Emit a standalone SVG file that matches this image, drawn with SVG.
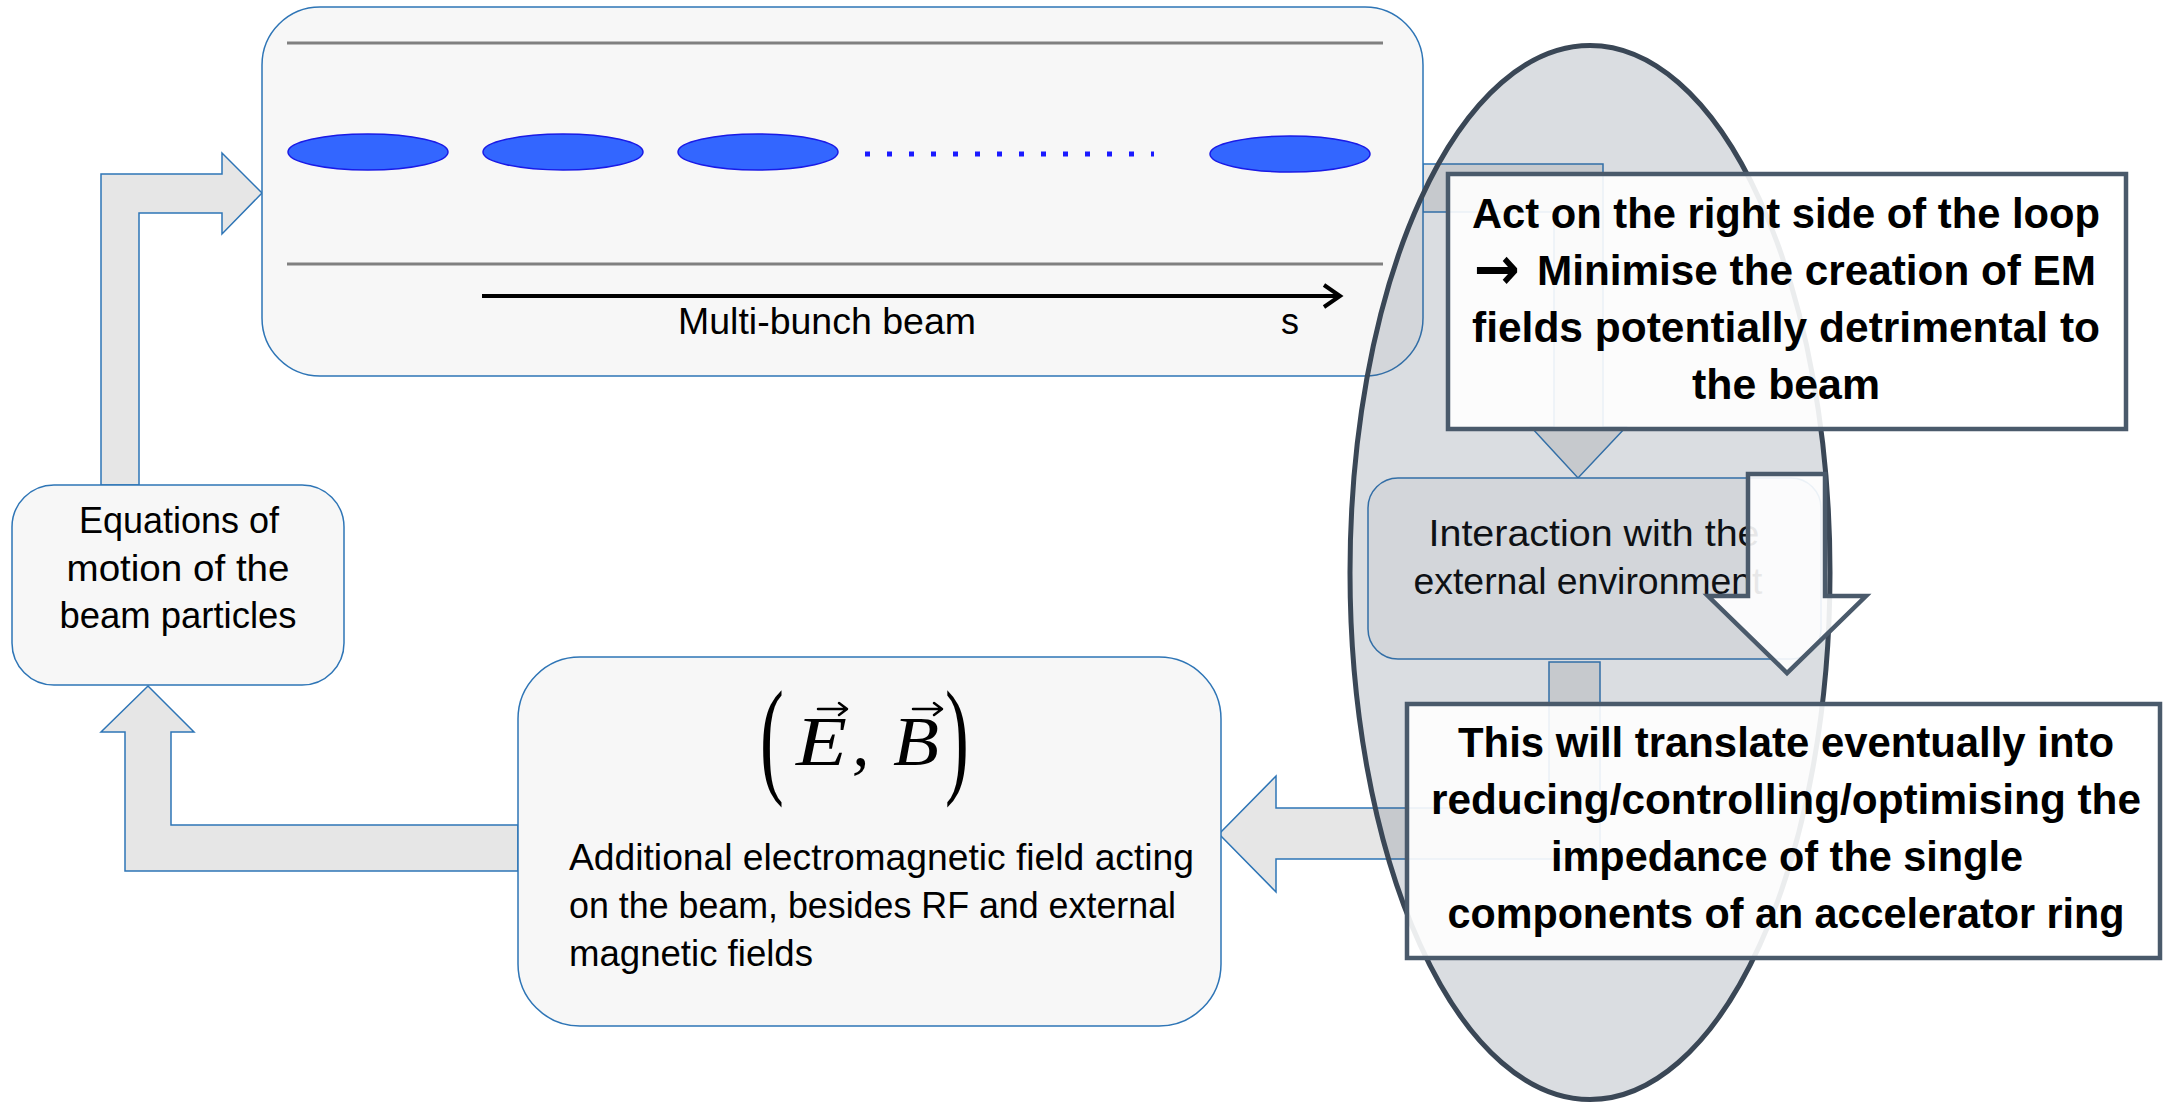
<svg xmlns="http://www.w3.org/2000/svg" width="2164" height="1105" viewBox="0 0 2164 1105">
  <style>
    .box { fill: #f7f7f7; stroke: #2e75b6; stroke-width: 1.5; }
    .conn { fill: #e6e6e6; stroke: #2e75b6; stroke-width: 1.5; stroke-linejoin: miter; }
    .t { font-family: "Liberation Sans", Arial, sans-serif; font-size: 36px; fill: #000; }
    .c { text-anchor: middle; }
    .b { font-family: "Liberation Sans", Arial, sans-serif; font-size: 42px; font-weight: bold; fill: #000; text-anchor: middle; }
    .bs { font-family: "Liberation Sans", Arial, sans-serif; font-size: 42px; font-weight: bold; fill: #000; text-anchor: start; }
    .callout { fill: #ffffff; fill-opacity: 0.9; stroke: #4a5a6b; stroke-width: 4.5; }
    .bunch { fill: #3366ff; stroke: #1a1ae6; stroke-width: 1.5; }
    .pipe { stroke: #808080; stroke-width: 3; }
    .m { font-family: "Liberation Serif", "Times New Roman", serif; font-style: italic; font-size: 70px; fill: #000; }
    .p { font-family: "Liberation Serif", "Times New Roman", serif; font-size: 130px; fill: #000; }
    .vec { fill: none; stroke: #000; stroke-width: 2.5; stroke-linecap: round; stroke-linejoin: round; }
  </style>

  <!-- connectors -->
  <g id="connectors">
    <polygon class="conn" points="101,485 101,174 222,174 222,153 262,193 222,234 222,213 139,213 139,485"/>
    <polygon class="conn" points="518,825 171,825 171,732 194,732 148,686 101,732 125,732 125,871 518,871"/>
    <polygon class="conn" points="1423,164 1603,164 1603,427 1626,427 1578,478 1531,427 1554,427 1554,212 1423,212"/>
    <polygon class="conn" points="1549,662 1600,662 1600,859 1276,859 1276,892 1219,834 1276,776 1276,808 1549,808"/>
  </g>

  <!-- top beam box -->
  <g id="beam">
    <rect class="box" x="262" y="7" width="1161" height="369" rx="58" ry="58"/>
    <line class="pipe" x1="287" y1="43" x2="1383" y2="43"/>
    <line class="pipe" x1="287" y1="264" x2="1383" y2="264"/>
    <ellipse class="bunch" cx="368" cy="152" rx="80" ry="18"/>
    <ellipse class="bunch" cx="563" cy="152" rx="80" ry="18"/>
    <ellipse class="bunch" cx="758" cy="152" rx="80" ry="18"/>
    <line x1="865" y1="154" x2="1154" y2="154" stroke="#1a1aff" stroke-width="5" stroke-dasharray="5 17"/>
    <ellipse class="bunch" cx="1290" cy="154" rx="80" ry="18"/>
    <line x1="482" y1="296" x2="1339" y2="296" stroke="#000" stroke-width="4"/>
    <polyline points="1324,285 1340,296 1324,307" fill="none" stroke="#000" stroke-width="4"/>
    <text class="t" x="678" y="334" textLength="298" lengthAdjust="spacingAndGlyphs">Multi-bunch beam</text>
    <text class="t" x="1281" y="334">s</text>
  </g>

  <!-- equations of motion -->
  <g id="equations">
    <rect class="box" x="12" y="485" width="332" height="200" rx="42" ry="42"/>
    <text class="t c" x="179" y="533" textLength="200" lengthAdjust="spacingAndGlyphs">Equations of</text>
    <text class="t c" x="178" y="581" textLength="223" lengthAdjust="spacingAndGlyphs">motion of the</text>
    <text class="t c" x="178" y="628" textLength="237" lengthAdjust="spacingAndGlyphs">beam particles</text>
  </g>

  <!-- additional EM field -->
  <g id="fields">
    <rect class="box" x="518" y="657" width="703" height="369" rx="62" ry="62"/>
    <text class="p" transform="translate(760,780) scale(0.55,1)">(</text>
    <text class="m" x="796" y="765" textLength="51" lengthAdjust="spacingAndGlyphs">E</text>
    <path class="vec" d="M818,709 L846,709 M839,703 L847,709 L839,715"/>
    <text class="m" x="852" y="765">,</text>
    <text class="m" x="893" y="765" textLength="46" lengthAdjust="spacingAndGlyphs">B</text>
    <path class="vec" d="M913,709 L941,709 M934,703 L942,709 L934,715"/>
    <text class="p" transform="translate(945,780) scale(0.55,1)">)</text>
    <text class="t" x="569" y="870" textLength="625" lengthAdjust="spacingAndGlyphs">Additional electromagnetic field acting</text>
    <text class="t" x="569" y="918" textLength="607" lengthAdjust="spacingAndGlyphs">on the beam, besides RF and external</text>
    <text class="t" x="569" y="966" textLength="244" lengthAdjust="spacingAndGlyphs">magnetic fields</text>
  </g>

  <!-- interaction with environment -->
  <g id="interaction">
    <rect class="box" x="1368" y="478" width="453" height="181" rx="30" ry="30"/>
    <text class="t c" x="1594" y="546" font-size="37" textLength="331" lengthAdjust="spacingAndGlyphs">Interaction with the</text>
    <text class="t c" x="1588" y="594" font-size="37" textLength="349" lengthAdjust="spacingAndGlyphs">external environment</text>
  </g>

  <!-- highlight ellipse -->
  <g id="highlight">
    <ellipse cx="1590" cy="572.5" rx="240" ry="527" fill="#44546a" fill-opacity="0.2" stroke="#3a4756" stroke-width="5"/>
  </g>

  <!-- callout 1 -->
  <g id="callout-right-side">
    <rect class="callout" x="1448" y="174" width="678" height="255"/>
    <text class="b" x="1786" y="228" textLength="628" lengthAdjust="spacingAndGlyphs">Act on the right side of the loop</text>
    <text class="bs" x="1474" y="289" style="font-family:'DejaVu Sans','Liberation Sans',sans-serif; font-size:60px" textLength="46" lengthAdjust="spacingAndGlyphs">→</text>
    <text class="bs" x="1537" y="285" textLength="559" lengthAdjust="spacingAndGlyphs">Minimise the creation of EM</text>
    <text class="b" x="1786" y="342" textLength="628" lengthAdjust="spacingAndGlyphs">fields potentially detrimental to</text>
    <text class="b" x="1786" y="399" textLength="188" lengthAdjust="spacingAndGlyphs">the beam</text>
  </g>

  <!-- big white arrow -->
  <g id="down-arrow">
    <polygon points="1748,474 1825,474 1825,596 1866,596 1787,673 1708,596 1748,596" fill="#ffffff" fill-opacity="0.9" stroke="#4a5a6b" stroke-width="4.5" stroke-linejoin="miter"/>
  </g>

  <!-- callout 2 -->
  <g id="callout-impedance">
    <rect class="callout" x="1407" y="704" width="753" height="254"/>
    <text class="b" x="1786" y="757" textLength="656" lengthAdjust="spacingAndGlyphs">This will translate eventually into</text>
    <text class="b" x="1786" y="814" textLength="710" lengthAdjust="spacingAndGlyphs">reducing/controlling/optimising the</text>
    <text class="b" x="1787" y="871" textLength="472" lengthAdjust="spacingAndGlyphs">impedance of the single</text>
    <text class="b" x="1786" y="928" textLength="677" lengthAdjust="spacingAndGlyphs">components of an accelerator ring</text>
  </g>
</svg>
